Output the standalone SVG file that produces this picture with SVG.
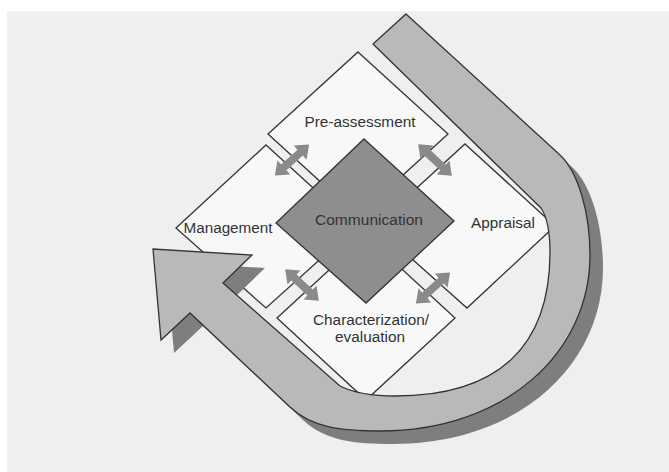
<svg xmlns="http://www.w3.org/2000/svg" xmlns:xlink="http://www.w3.org/1999/xlink" width="669" height="472" viewBox="0 0 669 472">
  <style>
    .box { fill: #f8f8f8; stroke: #333333; stroke-width: 1.3; stroke-linejoin: miter; }
    .core { fill: #8e8e8e; stroke: #333333; stroke-width: 1.3; }
    .lbl { font-family: "Liberation Sans", Arial, sans-serif; font-size: 14px; fill: #333333; text-anchor: middle; }
    .dbl { fill: #8a8a8a; }
    .band { fill: #b9b9b9; stroke: #333333; stroke-width: 1.3; stroke-linejoin: miter; }
    .shadow { fill: #7e7e7e; }
  </style>
  <defs>
    <polygon id="dblArrow" points="-23,0 -11,-9.5 -11,-4 11,-4 11,-9.5 23,0 11,9.5 11,4 -11,4 -11,9.5"/>
    <path id="bandShape" d="M 406,14 L 560,155 C 578,172 590,212 590,255 C 590,352 506,431 380,431 C 342,431 312,428 290,407 L 190,313 L 161,340 L 153,249 L 252,255 L 223,283 L 340,386 C 356,394 375,396 395,396 C 500,396 550,345 550,252 C 550,230 547,217 541,208 L 373,44 Z"/>
  </defs>

  <rect x="0" y="0" width="669" height="472" fill="#ffffff"/>
  <rect x="7" y="11" width="662" height="461" fill="#efefef"/>

  <g id="node-preassessment">
    <polygon class="box" points="358,52 448,134 358,216 268,134"/>
    <text class="lbl" x="360" y="127" textLength="111" lengthAdjust="spacingAndGlyphs">Pre-assessment</text>
  </g>
  <g id="node-management">
    <polygon class="box" points="266,145 356,227 266,308 176,228"/>
    <text class="lbl" x="228" y="233" textLength="89" lengthAdjust="spacingAndGlyphs">Management</text>
  </g>
  <g id="node-appraisal">
    <polygon class="box" points="465,144 555,226 467,308 375,226"/>
    <text class="lbl" x="503" y="228" textLength="64" lengthAdjust="spacingAndGlyphs">Appraisal</text>
  </g>
  <g id="node-characterization">
    <polygon class="box" points="366,236 455,318 366,400 277,318"/>
    <text class="lbl" x="371" y="325" textLength="116" lengthAdjust="spacingAndGlyphs">Characterization/</text>
    <text class="lbl" x="370" y="342" textLength="70" lengthAdjust="spacingAndGlyphs">evaluation</text>
  </g>
  <g id="node-communication">
    <polygon class="core" points="364,139 454,221 366,303 276,223"/>
    <text class="lbl" x="369" y="225" textLength="108" lengthAdjust="spacingAndGlyphs">Communication</text>
  </g>

  <g id="connectors">
    <use xlink:href="#dblArrow" class="dbl" transform="translate(292,160) rotate(-42)"/>
    <use xlink:href="#dblArrow" class="dbl" transform="translate(435,160) rotate(43)"/>
    <use xlink:href="#dblArrow" class="dbl" transform="translate(302,285) rotate(43)"/>
    <use xlink:href="#dblArrow" class="dbl" transform="translate(433,288) rotate(-42)"/>
  </g>

  <g id="cycle-arrow">
    <use xlink:href="#bandShape" class="shadow" transform="translate(13,13)"/>
    <use xlink:href="#bandShape" class="band"/>
  </g>
</svg>
